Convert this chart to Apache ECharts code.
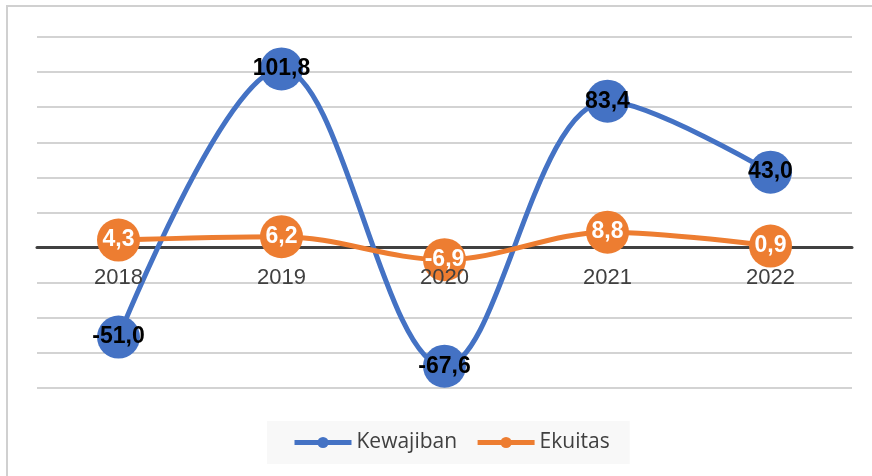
<!DOCTYPE html>
<html>
<head>
<meta charset="utf-8">
<script src="https://cdn.jsdelivr.net/npm/echarts@6/dist/echarts.min.js"></script>
<style>
html,body{margin:0;padding:0;background:#fff;}
#main{width:872px;height:476px;}
</style>
</head>
<body>
<div id="main"></div>
<script>
//kategori tahun
var years = ['2018', '2019', '2020', '2021', '2022'];
//pertumbuhan kewajiban
var kewajiban = [-51.0, 101.8, -67.6, 83.4, 43.0];
//pertumbuhan ekuitas
var ekuitas = [4.3, 6.2, -6.9, 8.8, 0.9];

var chart = echarts.init(document.getElementById('main'));

//format angka pakai koma desimal
function fmt(p) {
    return p.value.toFixed(1).replace('.', ',');
}

var option = {
    backgroundColor: '#fff',
    animation: false,
    graphic: [{
        type: 'rect',
        shape: { x: 7, y: 6, width: 900, height: 500 },
        style: { fill: 'none', stroke: '#d0d0d0', lineWidth: 2 },
        silent: true
    }],
    grid: { left: 37, right: 20, top: 37, bottom: 88 },
    legend: {
        bottom: 12,
        left: 267,
        backgroundColor: '#f8f8f8',
        padding: [11, 20, 11, 25],
        itemGap: 18,
        itemWidth: 57,
        itemHeight: 14,
        lineStyle: { width: 5 },
        textStyle: { fontFamily: 'Open Sans', fontSize: 21, color: '#404040' },
        data: ['Kewajiban', 'Ekuitas']
    },
    xAxis: [{
        //garis sumbu di nilai nol (di bawah marker)
        type: 'category',
        data: years,
        offset: -141,
        axisLine: { onZero: false, lineStyle: { color: '#404040', width: 3 } },
        axisTick: { show: false },
        axisLabel: { show: false }
    }, {
        //label tahun di atas marker
        type: 'category',
        data: years,
        position: 'bottom',
        offset: -141,
        z: 10,
        axisLine: { show: false, onZero: false },
        axisTick: { show: false },
        splitLine: { show: false },
        axisLabel: {
            margin: 20,
            fontFamily: 'Liberation Sans',
            fontSize: 22,
            color: '#404040'
        }
    }],
    yAxis: {
        type: 'value',
        min: -80,
        max: 120,
        interval: 20,
        axisLabel: { show: false },
        axisLine: { show: false },
        axisTick: { show: false },
        splitLine: { lineStyle: { color: '#c4c4c4', width: 1.5 } }
    },
    series: [{
        name: 'Kewajiban',
        type: 'line',
        data: kewajiban,
        smooth: 0.35,
        symbol: 'circle',
        symbolSize: 43,
        itemStyle: { color: '#4472c4' },
        lineStyle: { width: 5, color: '#4472c4' },
        label: {
            show: true,
            position: 'inside',
            formatter: fmt,
            color: '#000',
            fontWeight: 'bold',
            fontFamily: 'Liberation Sans',
            fontSize: 23
        }
    }, {
        name: 'Ekuitas',
        type: 'line',
        data: ekuitas,
        smooth: 0.35,
        symbol: 'circle',
        symbolSize: 43,
        itemStyle: { color: '#ed7d31' },
        lineStyle: { width: 5, color: '#ed7d31' },
        label: {
            show: true,
            position: 'inside',
            formatter: fmt,
            color: '#fff',
            fontWeight: 'bold',
            fontFamily: 'Liberation Sans',
            fontSize: 23
        }
    }]
};
chart.setOption(option);
</script>
</body>
</html>
